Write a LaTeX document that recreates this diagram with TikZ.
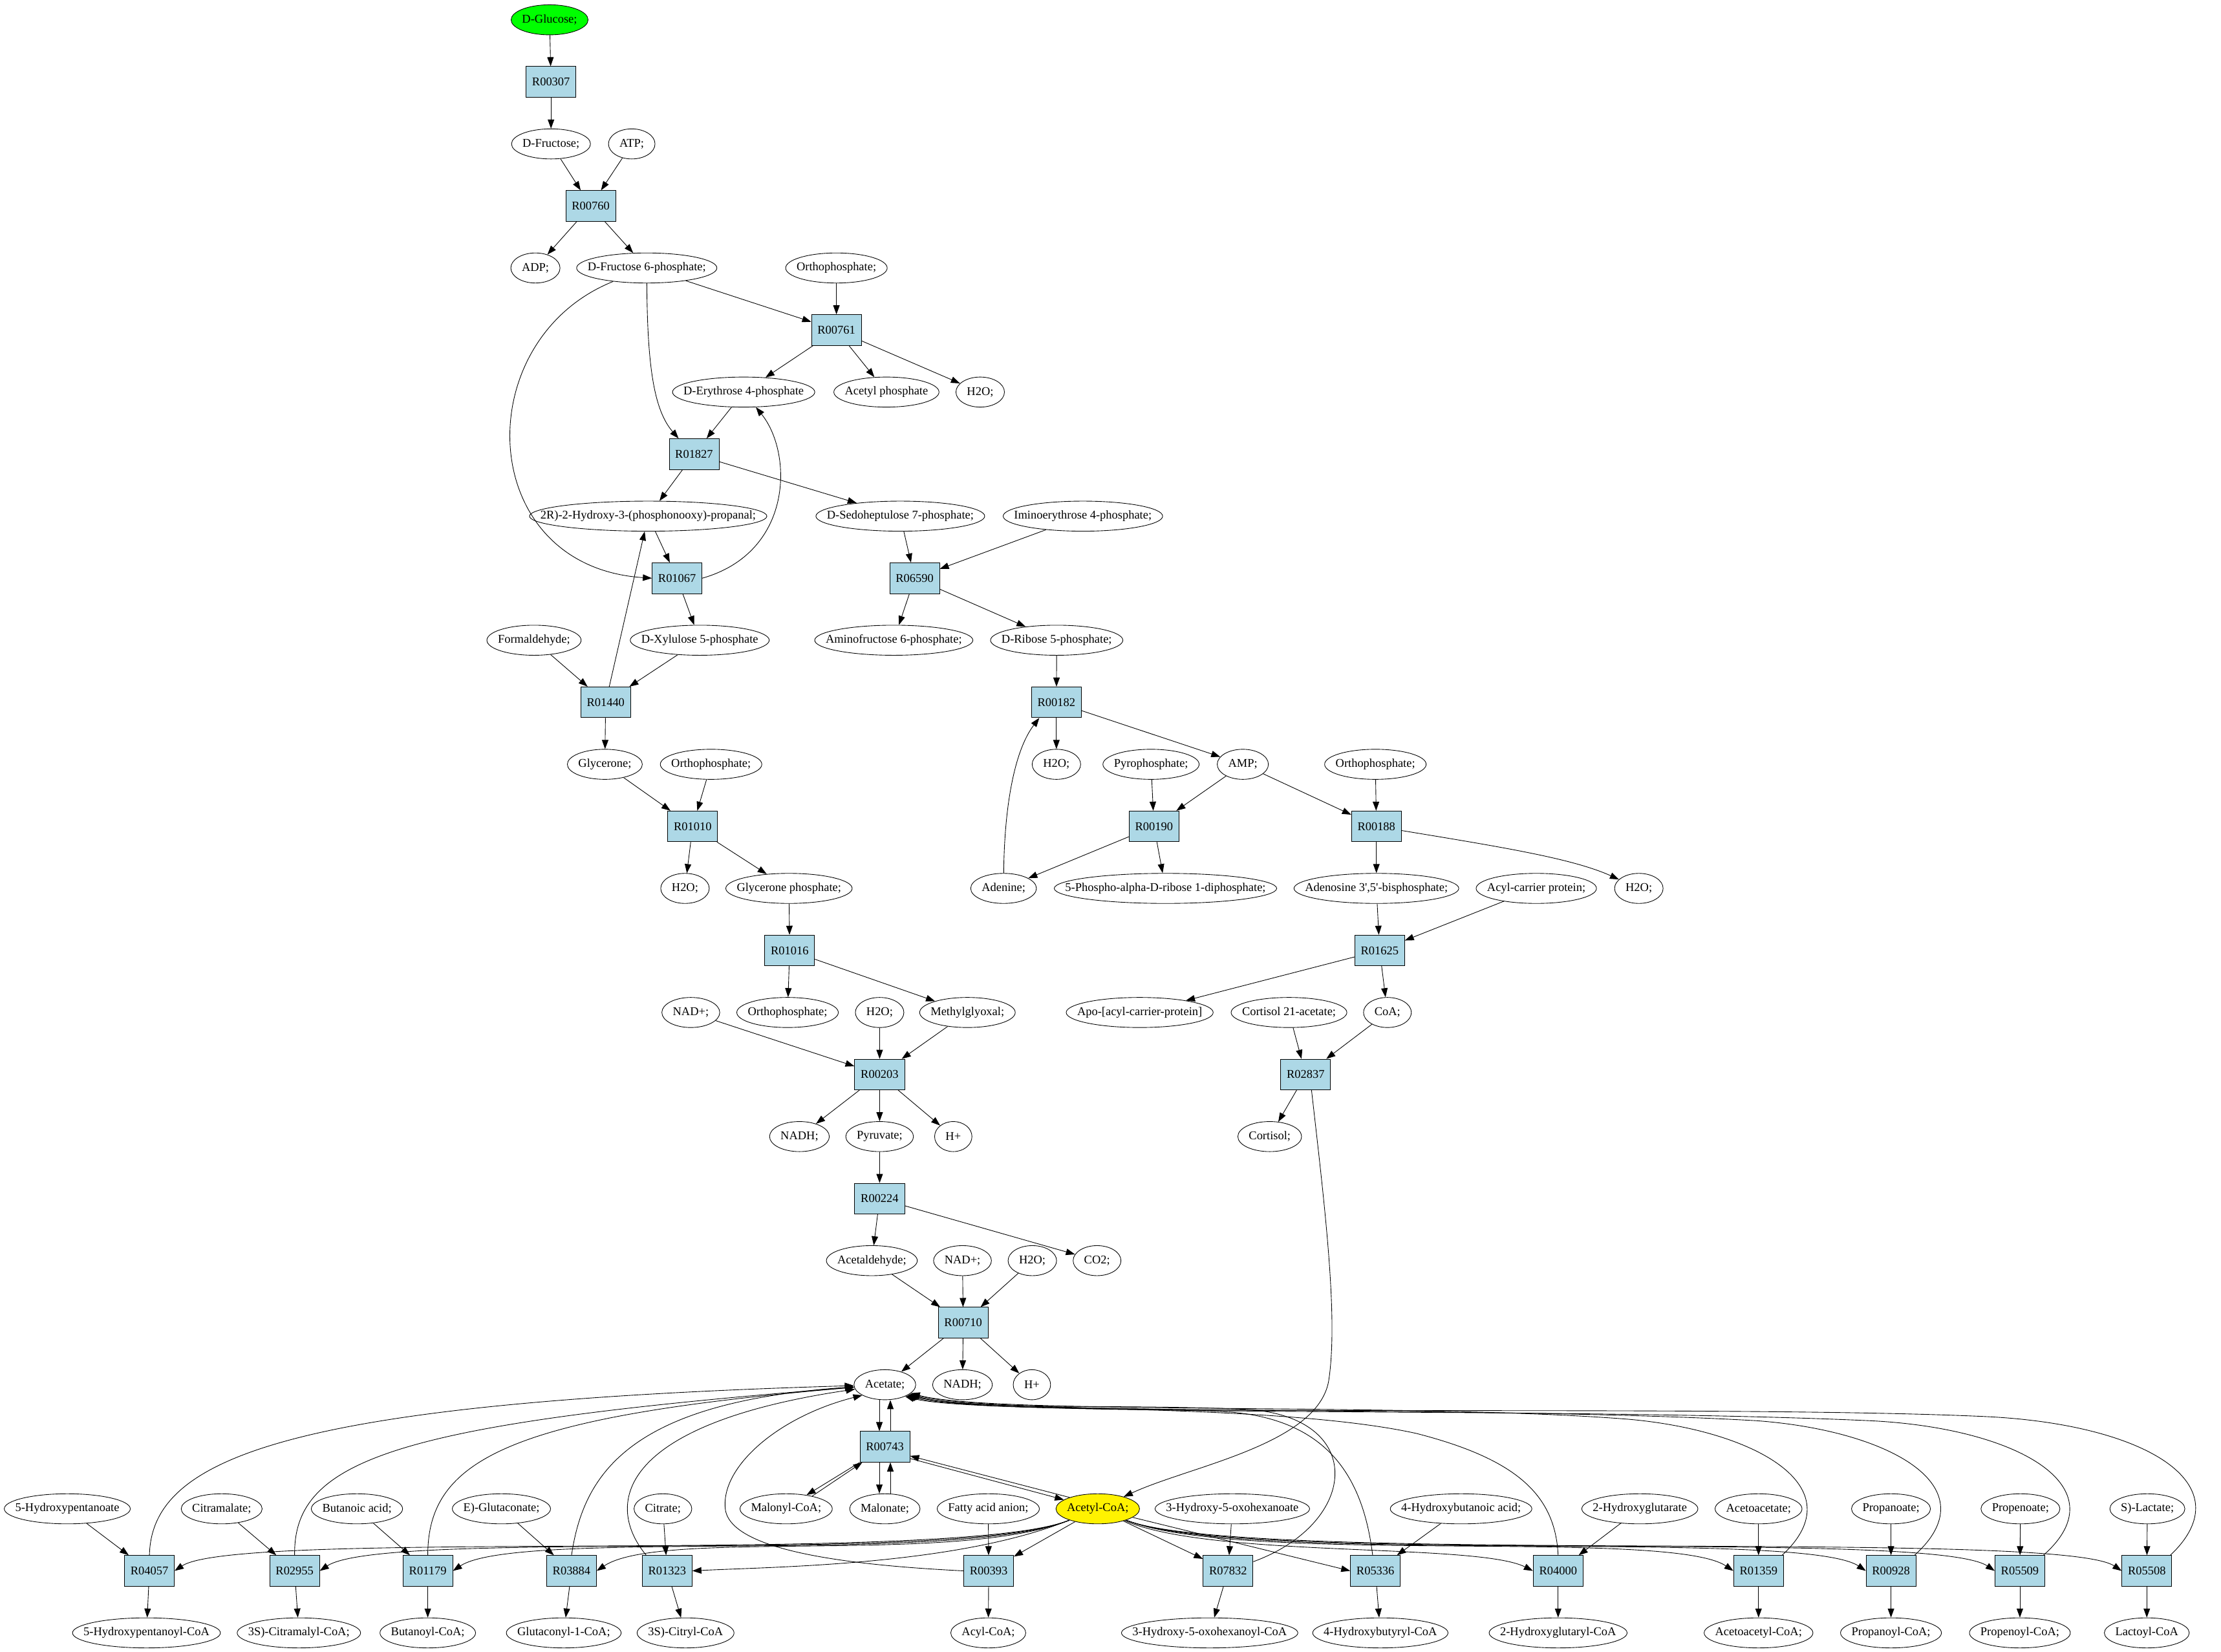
\documentclass[tikz,border=0pt]{standalone}
\usepackage{fontspec}
\setmainfont{Liberation Serif}[Ligatures=TeXOff]
\usetikzlibrary{arrows.meta,shapes.geometric}
\definecolor{lightblue}{HTML}{ADD8E6}
\newcommand\nodefont{\fontsize{10.5}{12.6}\selectfont}
\newlength\metwd
\newcommand\met[4][]{\settowidth\metwd{\pgfinterruptpicture\nodefont #4\endpgfinterruptpicture}\node[metabolite,minimum width=\metwd+0.68cm,#1] (#2) at (#3) {#4};}
\tikzset{
	metabolite/.style={ellipse,draw,inner xsep=-4cm,inner ysep=0pt,minimum height=0.93cm},
	reaction/.style={rectangle,draw,fill=lightblue,minimum width=1.54cm,minimum height=0.95cm,inner sep=0pt},
	flow/.style={-{Triangle[length=0.28cm,width=0.2cm]}},
}

\begin{document}
\begin{tikzpicture}[x=0.04381cm,y=-0.04381cm,line width=0.5pt,every node/.style={font=\nodefont}]
	\useasboundingbox (0,0) rectangle (1568,1166);

	\met[fill=green]{glc}{388,14}{D-Glucose;}
	\node[reaction] (r00307) at (389,57.8) {R00307};
	\met{fru}{389,101.6}{D-Fructose;}
	\met{atp}{446,101.6}{ATP;}
	\node[reaction] (r00760) at (417,145.4) {R00760};
	\met{adp}{378,189.2}{ADP;}
	\met{fsp}{456.6,189.2}{D-Fructose 6-phosphate;}
	\met{pia}{590.5,189.2}{Orthophosphate;}
	\node[reaction] (r00761) at (590.5,233) {R00761};
	\met{eryp}{525,276.8}{D-Erythrose 4-phosphate}
	\met{acp}{625.8,276.8}{Acetyl phosphate}
	\met{wa}{692,276.8}{H2O;}
	\node[reaction] (r01827) at (490,320.6) {R01827};
	\met{gap}{457.6,364.4}{2R)-2-Hydroxy-3-(phosphonooxy)-propanal;}
	\met{sedp}{635.6,364.4}{D-Sedoheptulose 7-phosphate;}
	\met{imep}{764.5,364.4}{Iminoerythrose 4-phosphate;}
	\node[reaction] (r01067) at (478,408.2) {R01067};
	\node[reaction] (r06590) at (645.7,408.2) {R06590};
	\met{form}{377,452}{Formaldehyde;}
	\met{xylp}{494,452}{D-Xylulose 5-phosphate}
	\met{amfp}{631,452}{Aminofructose 6-phosphate;}
	\met{ribp}{746,452}{D-Ribose 5-phosphate;}
	\node[reaction] (r01440) at (427.6,495.8) {R01440};
	\node[reaction] (r00182) at (745.8,495.8) {R00182};
	\met{glyc}{427,539.6}{Glycerone;}
	\met{pib}{502,539.6}{Orthophosphate;}
	\met{wb}{745.8,539.6}{H2O;}
	\met{ppi}{812.6,539.6}{Pyrophosphate;}
	\met{amp}{877.4,539.6}{AMP;}
	\met{pic}{971,539.6}{Orthophosphate;}
	\node[reaction] (r01010) at (489,583.4) {R01010};
	\node[reaction] (r00190) at (814.7,583.4) {R00190};
	\node[reaction] (r00188) at (971.7,583.4) {R00188};
	\met{wc}{483.6,627.2}{H2O;}
	\met{glyp}{557,627.2}{Glycerone phosphate;}
	\met{ade}{708.5,627.2}{Adenine;}
	\met{prpp}{822.8,627.2}{5-Phospho-alpha-D-ribose 1-diphosphate;}
	\met{pap}{971.7,627.2}{Adenosine 3',5'-bisphosphate;}
	\met{acpr}{1084.6,627.2}{Acyl-carrier protein;}
	\met{wd}{1157,627.2}{H2O;}
	\node[reaction] (r01016) at (557.5,671) {R01016};
	\node[reaction] (r01625) at (974,671) {R01625};
	\met{nada}{487.7,714.8}{NAD+;}
	\met{pid}{556,714.8}{Orthophosphate;}
	\met{we}{621,714.8}{H2O;}
	\met{mgo}{683,714.8}{Methylglyoxal;}
	\met{apo}{804.6,714.8}{Apo-[acyl-carrier-protein]}
	\met{cora}{910,714.8}{Cortisol 21-acetate;}
	\met{coa}{979.5,714.8}{CoA;}
	\node[reaction] (r00203) at (621,758.6) {R00203};
	\node[reaction] (r02837) at (921.8,758.6) {R02837};
	\met{nadha}{564.4,802.4}{NADH;}
	\met{pyr}{621,802.4}{Pyruvate;}
	\met{ha}{673,802.4}{H+}
	\met{cor}{896.4,802.4}{Cortisol;}
	\node[reaction] (r00224) at (621,846.2) {R00224};
	\met{acal}{615.5,890}{Acetaldehyde;}
	\met{nadb}{679.5,890}{NAD+;}
	\met{wf}{728.8,890}{H2O;}
	\met{co2}{774.5,890}{CO2;}
	\node[reaction] (r00710) at (680,933.8) {R00710};
	\met{ac}{624.7,977.6}{Acetate;}
	\met{nadhb}{679.5,977.6}{NADH;}
	\met{hb}{728.5,977.6}{H+}
	\node[reaction] (r00743) at (624.7,1021.4) {R00743};

	\met{hpa}{47.5,1065.2}{5-Hydroxypentanoate}
	\met{cmal}{156.5,1065.2}{Citramalate;}
	\met{but}{252,1065.2}{Butanoic acid;}
	\met{glut}{354,1065.2}{E)-Glutaconate;}
	\met{cit}{468,1065.2}{Citrate;}
	\met{malc}{555,1065.2}{Malonyl-CoA;}
	\met{mal}{624.7,1065.2}{Malonate;}
	\met{fa}{697.7,1065.2}{Fatty acid anion;}
	\met[fill=yellow]{accoa}{775,1065.2}{Acetyl-CoA;}
	\met{hoh}{870,1065.2}{3-Hydroxy-5-oxohexanoate}
	\met{hba}{1031.5,1065.2}{4-Hydroxybutanoic acid;}
	\met{hglu}{1157.7,1065.2}{2-Hydroxyglutarate}
	\met{acac}{1241.5,1065.2}{Acetoacetate;}
	\met{prop}{1335,1065.2}{Propanoate;}
	\met{pren}{1426.4,1065.2}{Propenoate;}
	\met{lac}{1516,1065.2}{S)-Lactate;}

	\node[reaction] (r04057) at (105.5,1109) {R04057};
	\node[reaction] (r02955) at (208,1109) {R02955};
	\node[reaction] (r01179) at (302,1109) {R01179};
	\node[reaction] (r03884) at (403.5,1109) {R03884};
	\node[reaction] (r01323) at (471,1109) {R01323};
	\node[reaction] (r00393) at (698,1109) {R00393};
	\node[reaction] (r07832) at (867,1109) {R07832};
	\node[reaction] (r05336) at (971,1109) {R05336};
	\node[reaction] (r04000) at (1100,1109) {R04000};
	\node[reaction] (r01359) at (1241.5,1109) {R01359};
	\node[reaction] (r00928) at (1335,1109) {R00928};
	\node[reaction] (r05509) at (1426,1109) {R05509};
	\node[reaction] (r05508) at (1515.6,1109) {R05508};

	\met{hpcoa}{103.4,1152.8}{5-Hydroxypentanoyl-CoA}
	\met{cmcoa}{211,1152.8}{3S)-Citramalyl-CoA;}
	\met{bucoa}{302,1152.8}{Butanoyl-CoA;}
	\met{glcoa}{398,1152.8}{Glutaconyl-1-CoA;}
	\met{citcoa}{484,1152.8}{3S)-Citryl-CoA}
	\met{acylcoa}{697.7,1152.8}{Acyl-CoA;}
	\met{hohcoa}{854,1152.8}{3-Hydroxy-5-oxohexanoyl-CoA}
	\met{hbcoa}{974.5,1152.8}{4-Hydroxybutyryl-CoA}
	\met{hgcoa}{1100,1152.8}{2-Hydroxyglutaryl-CoA}
	\met{aacoa}{1241.5,1152.8}{Acetoacetyl-CoA;}
	\met{prcoa}{1335,1152.8}{Propanoyl-CoA;}
	\met{pecoa}{1426,1152.8}{Propenoyl-CoA;}
	\met{lacoa}{1515.6,1152.8}{Lactoyl-CoA}

	\foreach \a/\b in {glc/r00307,r00307/fru,fru/r00760,atp/r00760,r00760/adp,r00760/fsp,fsp/r00761,pia/r00761,
		r00761/eryp,r00761/acp,r00761/wa,eryp/r01827,r01827/gap,r01827/sedp,gap/r01067,r01067/xylp,
		sedp/r06590,imep/r06590,r06590/amfp,r06590/ribp,form/r01440,xylp/r01440,r01440/gap,r01440/glyc,
		glyc/r01010,pib/r01010,r01010/wc,r01010/glyp,glyp/r01016,r01016/pid,r01016/mgo}
		\draw[flow] (\a) -- (\b);
	\foreach \a/\b in {nada/r00203,we/r00203,mgo/r00203,r00203/nadha,r00203/pyr,r00203/ha,pyr/r00224,
		r00224/acal,r00224/co2,acal/r00710,nadb/r00710,wf/r00710,r00710/ac,r00710/nadhb,r00710/hb}
		\draw[flow] (\a) -- (\b);
	\foreach \a/\b in {ribp/r00182,r00182/wb,r00182/amp,ppi/r00190,amp/r00190,r00190/ade,r00190/prpp,
		pic/r00188,amp/r00188,r00188/pap,pap/r01625,acpr/r01625,r01625/apo,r01625/coa,
		cora/r02837,coa/r02837,r02837/cor}
		\draw[flow] (\a) -- (\b);

	\draw[flow] (fsp) .. controls (330,240) and (335,400) .. (r01067.west);
	\draw[flow] (fsp) .. controls (457,260) and (462,290) .. ([xshift=0.3cm]r01827.north west);
	\draw[flow] (r01067.east) .. controls (560,390) and (560,320) .. (eryp);
	\draw[flow] (ade) .. controls (709,570) and (716,530) .. ([xshift=0.25cm]r00182.south west);
	\draw[flow] (r00188) .. controls (1060,598) and (1110,606) .. (wd);
	\draw[flow] ([xshift=0.18cm]r02837.south) .. controls (935,850) and (945,930) .. (938,975)
		.. controls (930,1020) and (840,1035) .. (accoa);

	\draw[flow] ([xshift=-0.17cm]ac.south) -- ([xshift=-0.17cm]r00743.north);
	\draw[flow] ([xshift=0.17cm]r00743.north) -- ([xshift=0.17cm]ac.south);
	\draw[flow] ([xshift=-0.17cm]r00743.south) -- ([xshift=-0.17cm]mal.north);
	\draw[flow] ([xshift=0.17cm]mal.north) -- ([xshift=0.17cm]r00743.south);
	\draw[flow] (r00743.south west) -- (malc.34);
	\draw[flow] (malc.26) -- ([xshift=0.08cm]r00743.south west);
	\draw[flow] (r00743.-25) -- (accoa.165);
	\draw[flow] (accoa.158) -- (r00743.-20);

	\foreach \s/\r/\p in {hpa/r04057/hpcoa,cmal/r02955/cmcoa,but/r01179/bucoa,glut/r03884/glcoa,
		cit/r01323/citcoa,fa/r00393/acylcoa,hoh/r07832/hohcoa,hba/r05336/hbcoa,hglu/r04000/hgcoa,
		acac/r01359/aacoa,prop/r00928/prcoa,pren/r05509/pecoa,lac/r05508/lacoa}
		{\draw[flow] (\s) -- (\r); \draw[flow] (\r) -- (\p);}

	\foreach \r in {r04057,r02955,r01179,r03884}
		\draw[flow] (accoa) .. controls +(-100,40) and +(45,-30) .. (\r.east);
	\draw[flow] (accoa) .. controls +(-100,40) and +(60,-3) .. (r01323.east);
	\draw[flow] (accoa) -- (r00393);
	\draw[flow] (accoa) -- (r07832);
	\draw[flow] (accoa) -- (r05336.west);
	\draw[flow] (accoa) .. controls +(80,35) and +(-40,-20) .. (r04000.west);
	\foreach \r in {r01359,r00928,r05509,r05508}
		\draw[flow] (accoa) .. controls +(100,40) and +(-45,-30) .. (\r.west);

	\draw[flow] (r04057.north) .. controls (107,1030) and (200,990) .. (ac);
	\draw[flow] (r02955.north) .. controls (207,1030) and (280,1005) .. (ac);
	\draw[flow] (r01179.north) .. controls (302,1030) and (360,1000) .. (ac);
	\draw[flow] (r03884.north) .. controls (412,1040) and (445,990) .. (ac);
	\draw[flow] ([xshift=0.13cm]r01323.north west) .. controls (425,1060) and (440,1005) .. (ac);
	\draw[flow] (r00393.west) .. controls (600,1105) and (515,1095) .. (512,1065)
		.. controls (509,1035) and (550,1000) .. (ac.-155);
	\draw[flow] (r07832.20) .. controls (960,1075) and (965,1000) .. (880,995)
		.. controls (790,991) and (690,996) .. (ac.-25);
	\draw[flow] (r05336.100) .. controls (962,1040) and (935,1003) .. (870,997)
		.. controls (790,992) and (690,997) .. (ac.-22);
	\draw[flow] (r04000.north) .. controls (1098,1055) and (1070,1030) .. (1000,1012)
		.. controls (900,990) and (700,998) .. (ac.-20);
	\draw[flow] ([xshift=-0.05cm]r01359.north east) .. controls (1310,1050) and (1240,1010) .. (1150,1002)
		.. controls (1000,990) and (700,999) .. (ac.-18);
	\draw[flow] ([xshift=-0.05cm]r00928.north east) .. controls (1405,1050) and (1335,1010) .. (1240,1003)
		.. controls (1050,992) and (700,1000) .. (ac.-23);
	\draw[flow] ([xshift=-0.05cm]r05509.north east) .. controls (1497,1050) and (1425,1008) .. (1320,1003)
		.. controls (1100,993) and (700,1001) .. (ac.-27);
	\draw[flow] ([xshift=-0.05cm]r05508.north east) .. controls (1585,1048) and (1515,1005) .. (1400,1000)
		.. controls (1200,991) and (700,1002) .. (ac.-30);
\end{tikzpicture}
\end{document}
